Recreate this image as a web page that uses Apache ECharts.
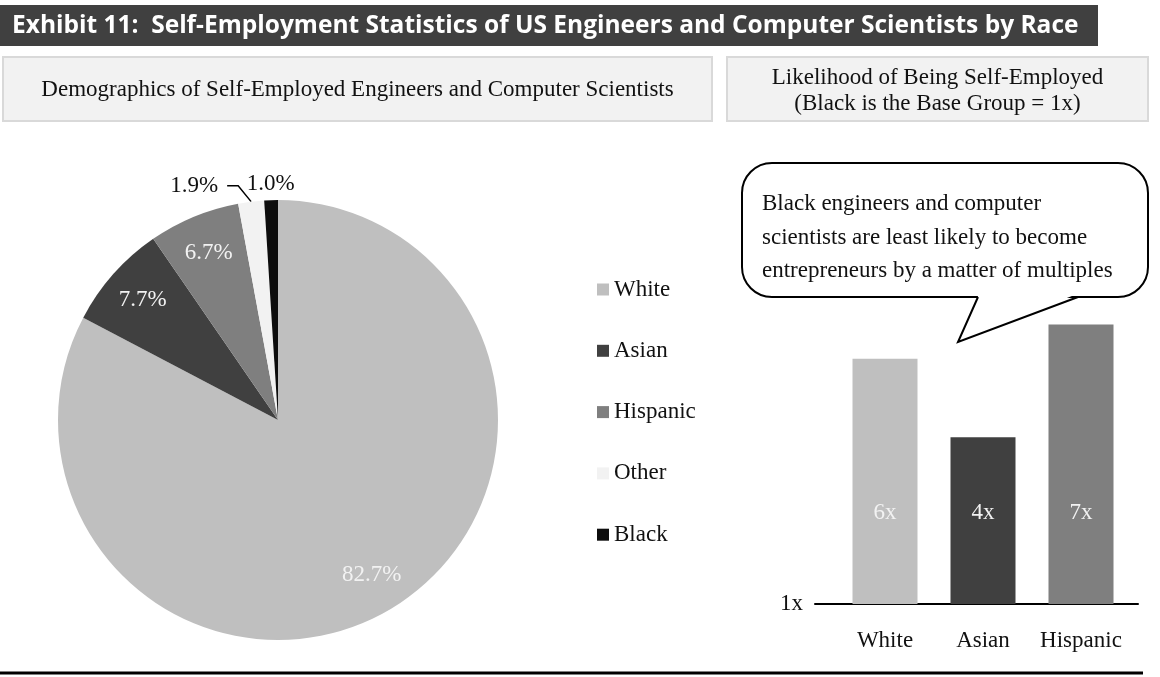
<!DOCTYPE html>
<html><head><meta charset="utf-8">
<script src="https://cdn.jsdelivr.net/npm/echarts@6/dist/echarts.min.js"></script>
<style>html,body{margin:0;padding:0;background:#fff}#c{width:1160px;height:677px}</style>
</head><body><div id="c"></div>
<script>
// ---- data ----
const pieCategories = ['White', 'Asian', 'Hispanic', 'Other', 'Black'];
const pieShares = [82.7, 7.7, 6.7, 1.9, 1.0];
const barCategories = ['White', 'Asian', 'Hispanic'];
const barMultiples = [6.0, 4.4, 6.7];
const baseMultiple = 1;
const titleText = 'Exhibit 11:  Self-Employment Statistics of US Engineers and Computer Scientists by Race';
const pieTitle = 'Demographics of Self-Employed Engineers and Computer Scientists';
const barTitleLines = ['Likelihood of Being Self-Employed', '(Black is the Base Group = 1x)'];
const calloutLines = ['Black engineers and computer', 'scientists are least likely to become', 'entrepreneurs by a matter of multiples'];

// ---- styles ----
const colors = { White: '#bfbfbf', Asian: '#404040', Hispanic: '#7f7f7f', Other: '#f2f2f2', Black: '#0d0d0d' };
const SERIF = '"Liberation Serif", "Times New Roman", serif';
const FS = 23;
const TXT = '#111';
const pieCenter = [278, 420];
const pieR = 220;
const innerLabelSet = ['White', 'Asian', 'Hispanic'];
const outerLineLabelSet = ['Other'];
const outerPlainLabelSet = ['Black'];
const pctFmt = p => p.value.toFixed(1) + '%';
const leaderKink = 11;

const chart = echarts.init(document.getElementById('c'), null, { renderer: 'canvas' });

const mainPie = {
  type: 'pie', name: 'main', center: pieCenter, radius: [0, pieR], startAngle: 90, clockwise: true,
  avoidLabelOverlap: false, silent: true, emphasis: { disabled: true },
  label: { position: 'outside', formatter: pctFmt, color: TXT, fontFamily: SERIF, fontSize: FS, distanceToLabelLine: 9 },
  labelLine: { length: 16, length2: 22, smooth: false, lineStyle: { color: '#000', width: 1.5 } },
  labelLayout: p => {
    if (!p.labelLinePoints) return {};
    const pts = p.labelLinePoints.map(q => q.slice());
    pts[1][0] -= leaderKink;
    return { labelLinePoints: pts };
  },
  data: pieCategories.map((n, i) => ({
    name: n, value: pieShares[i], itemStyle: { color: colors[n] },
    label: { show: outerLineLabelSet.includes(n) }, labelLine: { show: outerLineLabelSet.includes(n) }
  }))
};
const innerLabelPie = {
  type: 'pie', name: 'lblIn', center: pieCenter, radius: [136, pieR], startAngle: 90, clockwise: true,
  avoidLabelOverlap: false, silent: true, emphasis: { disabled: true }, legendHoverLink: false,
  itemStyle: { color: 'rgba(0,0,0,0)' },
  label: { position: 'inside', formatter: pctFmt, color: '#f2f2f2', fontFamily: SERIF, fontSize: FS },
  labelLine: { show: false },
  data: pieCategories.map((n, i) => ({ name: n, value: pieShares[i], label: { show: innerLabelSet.includes(n) } }))
};
const outerLabelPie = {
  type: 'pie', name: 'lblOut', center: pieCenter, radius: [pieR, pieR + 26], startAngle: 90, clockwise: true,
  avoidLabelOverlap: false, silent: true, emphasis: { disabled: true }, legendHoverLink: false,
  itemStyle: { color: 'rgba(0,0,0,0)' },
  label: { position: 'inside', formatter: pctFmt, color: TXT, fontFamily: SERIF, fontSize: FS },
  labelLine: { show: false },
  data: pieCategories.map((n, i) => ({ name: n, value: pieShares[i], label: { show: outerPlainLabelSet.includes(n) } }))
};

const barSeries = {
  type: 'bar', xAxisIndex: 0, yAxisIndex: 0, barWidth: 65, silent: true,
  data: barCategories.map((n, i) => ({ value: barMultiples[i], itemStyle: { color: colors[n] } })),
  label: { show: true, position: 'insideBottom', distance: 80, formatter: p => Math.round(p.value) + 'x',
    color: '#f2f2f2', fontFamily: SERIF, fontSize: FS }
};

const option = {
  animation: false,
  backgroundColor: '#fff',
  legend: {
    orient: 'vertical', left: 592, top: 273, itemWidth: 12, itemHeight: 12, itemGap: 38.3, icon: 'rect',
    selectedMode: false, data: pieCategories,
    textStyle: { fontFamily: SERIF, fontSize: FS, color: TXT, lineHeight: 23 }
  },
  grid: [
    { left: 836, width: 294, top: 300, height: 304 },
    { left: 815, width: 323, top: 300, height: 304 }
  ],
  xAxis: [
    { gridIndex: 0, type: 'category', data: barCategories, axisLine: { show: false }, axisTick: { show: false },
      axisLabel: { interval: 0, margin: 25, fontFamily: SERIF, fontSize: FS, color: TXT } },
    { gridIndex: 1, type: 'value', min: 0, max: 1, axisLine: { show: true, lineStyle: { color: '#000', width: 2 } },
      axisTick: { show: false }, axisLabel: { show: false }, splitLine: { show: false } }
  ],
  yAxis: [
    { gridIndex: 0, type: 'value', min: baseMultiple, max: 7.2, interval: 1, axisLine: { show: false }, axisTick: { show: false },
      splitLine: { show: false },
      axisLabel: { margin: 33, fontFamily: SERIF, fontSize: FS, color: TXT, formatter: v => v === baseMultiple ? baseMultiple + 'x' : '' } },
    { gridIndex: 1, type: 'value', show: false }
  ],
  series: [mainPie, innerLabelPie, outerLabelPie, barSeries],
  graphic: [
    { type: 'rect', shape: { x: 0, y: 5, width: 1098, height: 41 }, style: { fill: '#404040' }, silent: true },
    { type: 'text', x: 12, y: 26, style: { text: titleText, fill: '#fff', font: 'bold 24.5px "Open Sans", Lato, sans-serif', verticalAlign: 'middle', align: 'left' }, silent: true },
    { type: 'rect', shape: { x: 3, y: 57, width: 709, height: 64 }, style: { fill: '#f2f2f2', stroke: '#d9d9d9', lineWidth: 2 }, silent: true },
    { type: 'text', x: 357.5, y: 90, style: { text: pieTitle, fill: TXT, font: FS + 'px ' + SERIF, align: 'center', verticalAlign: 'middle' }, silent: true },
    { type: 'rect', shape: { x: 727, y: 57, width: 421, height: 64 }, style: { fill: '#f2f2f2', stroke: '#d9d9d9', lineWidth: 2 }, silent: true },
    { type: 'text', x: 937.5, y: 78, style: { text: barTitleLines[0], fill: TXT, font: FS + 'px ' + SERIF, align: 'center', verticalAlign: 'middle' }, silent: true },
    { type: 'text', x: 937.5, y: 104, style: { text: barTitleLines[1], fill: TXT, font: FS + 'px ' + SERIF, align: 'center', verticalAlign: 'middle' }, silent: true },
    { type: 'rect', shape: { x: 742, y: 163, width: 406, height: 134, r: 30 }, style: { fill: '#fff', stroke: '#000', lineWidth: 2 }, silent: true, z: 10 },
    { type: 'polygon', shape: { points: [[979, 294], [1077, 294], [958, 341]] }, style: { fill: '#fff' }, silent: true, z: 11 },
    { type: 'polyline', shape: { points: [[978, 297], [958, 342], [1078, 297]] }, style: { stroke: '#000', lineWidth: 2, fill: null }, silent: true, z: 11 },
    { type: 'text', x: 762, y: 204, z: 12, style: { text: calloutLines[0], fill: TXT, font: FS + 'px ' + SERIF, align: 'left', verticalAlign: 'middle' }, silent: true },
    { type: 'text', x: 762, y: 238, z: 12, style: { text: calloutLines[1], fill: TXT, font: FS + 'px ' + SERIF, align: 'left', verticalAlign: 'middle' }, silent: true },
    { type: 'text', x: 762, y: 271, z: 12, style: { text: calloutLines[2], fill: TXT, font: FS + 'px ' + SERIF, align: 'left', verticalAlign: 'middle' }, silent: true },
    { type: 'line', shape: { x1: 0, y1: 673, x2: 1143, y2: 673 }, style: { stroke: '#000', lineWidth: 3 }, silent: true }
  ]
};
chart.setOption(option);
</script>
</body></html>
